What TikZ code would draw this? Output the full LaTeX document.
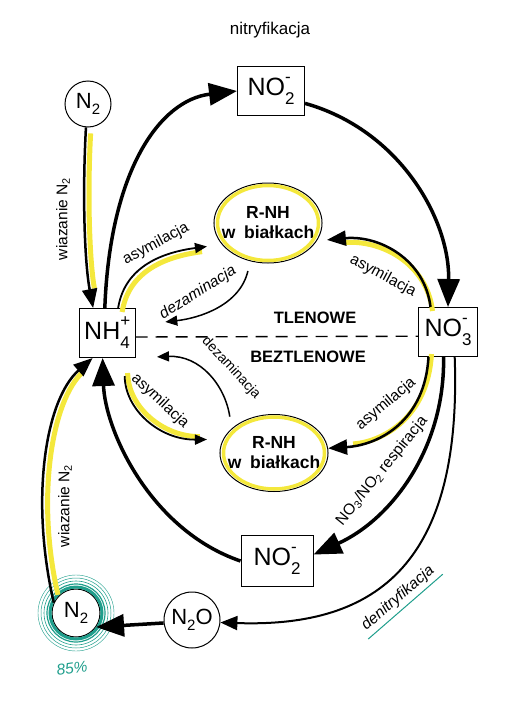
\documentclass[tikz,border=0pt]{standalone}
\usepackage{fontspec}
\setmainfont{Liberation Sans}
\usetikzlibrary{arrows.meta}
\usetikzlibrary{shapes.geometric}
\definecolor{hlyellow}{HTML}{F4E83C}
\definecolor{scribble}{HTML}{1F9E8C}
\newcommand{\chemion}[3]{#1\rlap{\raisebox{0.5em}{\fontsize{17}{17}\selectfont#3}}\raisebox{-0.38em}{\fontsize{17}{17}\selectfont#2}}
\newcommand{\gassub}[1]{\raisebox{-0.3em}{\fontsize{15}{15}\selectfont#1}}

\begin{document}
\begin{tikzpicture}[
	x=1pt,y=-1pt,
	box/.style={
		draw,line width=1pt,
		minimum height=49pt,
		inner sep=0pt,
		font=\fontsize{25}{26}\selectfont,
	},
	gas/.style={circle,draw,line width=1pt,minimum size=46pt,inner sep=0pt,font=\fontsize{22}{23}\selectfont},
	protein/.style={ellipse,draw,line width=1pt,minimum width=106pt,minimum height=80pt,
		inner xsep=-8pt,inner ysep=0pt,align=center,font=\bfseries\fontsize{17.5}{20}\selectfont},
	zone/.style={font=\bfseries\fontsize{16.5}{17}\selectfont},
	lbl/.style={font=\fontsize{15.5}{16}\selectfont,inner sep=1pt},
	bigarrow/.style={line width=3.5pt,-{Triangle[length=28pt,width=22pt]}},
	midarrow/.style={line width=2.5pt,-{Triangle[length=19pt,width=15pt]}},
	smallarrow/.style={line width=1.8pt,-{Triangle[length=12pt,width=10pt]}},
	hl/.style={hlyellow,line width=5pt},
]
\useasboundingbox (0,0) rectangle (507,720);

\node [box,minimum width=67pt] (no2t) at (271,91) {\chemion{NO}{2}{-}};
\node [box,minimum width=56pt] (nh) at (107,333) {\chemion{NH}{4}{+}};
\node [box,minimum width=59pt] (no3) at (448,332) {\chemion{NO}{3}{-}};
\node [box,minimum width=72pt,minimum height=51pt] (no2b) at (277,561) {\chemion{NO}{2}{-}};
\node [gas] (n2t) at (88,104) {N\gassub{2}};
\node [gas,minimum size=48pt] (n2b) at (76,613) {N\gassub{2}};
\node [gas,minimum size=56pt] (n2o) at (192,620) {N\gassub{2}O};
\node [protein] (rnht) at (268,223) {R-NH\\w\enspace białkach};
\node [protein,minimum height=77pt] (rnhb) at (274,453) {R-NH\\w\enspace białkach};
\draw[hl,line width=3.5pt] (rnht.center) ellipse [x radius=50.5, y radius=37.5];
\draw[hl,line width=3.5pt] (rnhb.center) ellipse [x radius=50.5, y radius=36];

% 85% of N2 ring
\foreach \r/\w in {26/3pt,29/1.2pt,32/0.6pt,35/0.5pt,38/0.4pt}
	\draw[scribble,line width=\w] (n2b.center) circle [radius=\r];

\draw[line width=1.4pt,dash pattern=on 12pt off 8pt] (nh.-8) -- (no3.188);
\node [zone] (tlen) at (315,318) {TLENOWE};
\node [zone] (beztlen) at (308,357) {BEZTLENOWE};

% nitryfikacja
\node [font=\fontsize{17}{18}\selectfont] (nitr) at (270,30) {nitryfikacja};
\draw[bigarrow] (nh.95) .. controls (110,170) and (160,100) .. (no2t.west);
\draw[bigarrow] (no2t.-20) .. controls (400,130) and (450,220) .. (no3.north);

% wiazanie
\draw[hl,transform canvas={xshift=5pt},shorten >=20pt,shorten <=6pt] (n2t.-95) .. controls (82,200) and (85,265) .. (nh.119);
\draw[midarrow] (n2t.-95) .. controls (82,200) and (85,265) .. (nh.119);
\node [lbl,rotate=90] (wiazT) at (63,219) {wiazanie N\textsubscript{2}};
\draw[hl,transform canvas={xshift=6pt},shorten >=20pt,shorten <=8pt] (n2b.155) .. controls (30,500) and (45,400) .. (nh.-120);
\draw[midarrow] (n2b.155) .. controls (30,500) and (45,400) .. (nh.-120);
\node [lbl,rotate=90] (wiazB) at (65,506) {wiazanie N\textsubscript{2}};

% asymilacja / dezaminacja, tlenowe
\draw[hl,transform canvas={xshift=4pt,yshift=-4pt},shorten >=24pt] (nh.66) .. controls (125,265) and (165,252) .. (rnht.205);
\draw[smallarrow,shorten >=15pt] (nh.66) .. controls (125,265) and (165,252) .. (rnht.205);
\node [lbl,rotate=28] (asymUL) at (156,244) {asymilacja};
\draw[smallarrow,line width=1.5pt,shorten <=10pt,shorten >=30pt] (rnht.-115) .. controls (240,305) and (200,318) .. (nh.15);
\node [lbl,rotate=32] (dezT) at (198,293) {\itshape dezaminacja};
\draw[hl,transform canvas={xshift=2pt,yshift=-4pt},shorten >=24pt] (no3.125) .. controls (425,260) and (380,235) .. (rnht.-20);
\draw[midarrow,shorten >=10pt] (no3.125) .. controls (425,260) and (380,235) .. (rnht.-20);
\node [lbl,rotate=-28] (asymUR) at (383,276) {asymilacja};

% asymilacja / dezaminacja, beztlenowe
\draw[smallarrow,line width=1.5pt,shorten <=12pt,shorten >=25pt] (rnhb.150) .. controls (225,385) and (200,355) .. (nh.-45);
\node [lbl,rotate=-47,font=\fontsize{14}{15}\selectfont] (dezB) at (231,368) {dezaminacja};
\draw[hl,transform canvas={xshift=3pt,yshift=3pt},shorten <=18pt,shorten >=26pt] (nh.-55) .. controls (125,410) and (160,440) .. (rnhb.165);
\draw[smallarrow,shorten <=18pt,shorten >=16pt] (nh.-55) .. controls (125,410) and (160,440) .. (rnhb.165);
\node [lbl,rotate=-43] (asymLL) at (160,401) {asymilacja};
\draw[hl,transform canvas={xshift=3pt,yshift=3pt},shorten >=22pt] (no3.-128) .. controls (425,420) and (380,445) .. (rnhb.5);
\draw[midarrow] (no3.-128) .. controls (425,420) and (380,445) .. (rnhb.5);
\node [lbl,rotate=40] (asymLR) at (386,404) {asymilacja};

% respiracja, denitryfikacja
\draw[bigarrow] (no3.-100) .. controls (445,450) and (390,520) .. (no2b.10);
\node [lbl,rotate=51] (resp) at (382,471) {NO\textsubscript{3}/NO\textsubscript{2} respiracja};
\draw[bigarrow] (no2b.west) .. controls (150,530) and (105,430) .. (nh.-100);
\draw[line width=2pt,-{Triangle[length=17pt,width=14pt]}] (no3.-75) .. controls (462,560) and (380,628) .. (n2o.-5);
\draw[bigarrow] (n2o.186) -- (n2b.-35);
\node [lbl,rotate=41,inner sep=4pt] (denitr) at (398,598) {\itshape denitryfikacja};
\draw[scribble,line width=1pt] (denitr.south west) -- (denitr.south east);
\node [lbl,rotate=8,text=scribble] (pct) at (72,668) {\itshape 85\%};
\end{tikzpicture}
\end{document}
